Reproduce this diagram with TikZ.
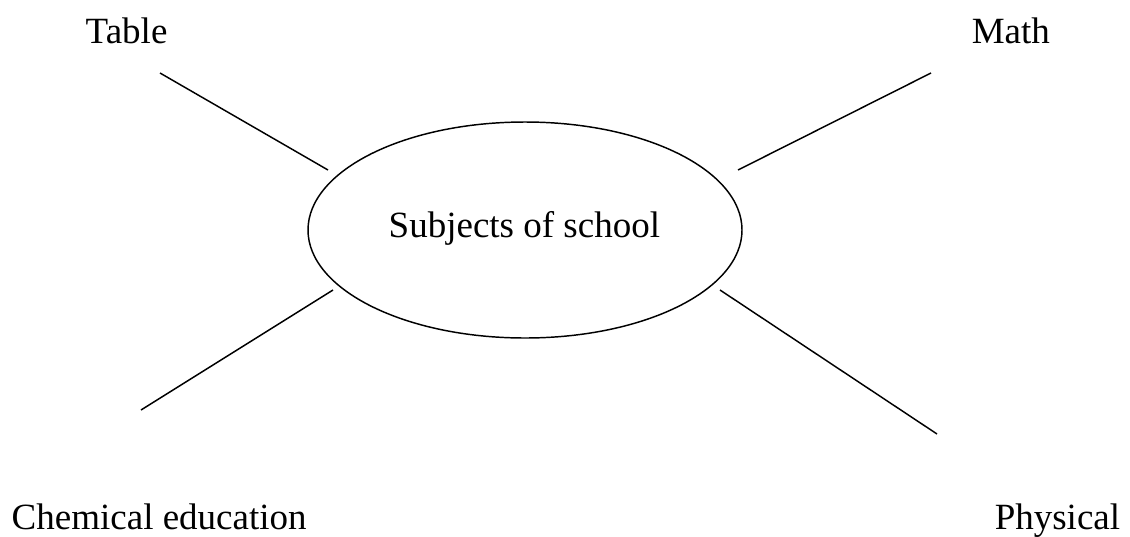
\documentclass[tikz,border=0pt]{standalone}
\usepackage{fontspec}
\setmainfont{Liberation Serif}
\usepackage{tikz}
\usetikzlibrary{shapes.geometric}

\begin{document}
\begin{tikzpicture}[x=0.75pt, y=-0.75pt, line width=1.1pt]
\useasboundingbox (0,0) rectangle (1130,536);
\tikzset{lbl/.style={inner sep=0pt, anchor=base west, font=\fontsize{27.75}{33}\selectfont}}
% Centre
\node[ellipse, draw, minimum width=434*0.75pt, minimum height=216*0.75pt, font=\fontsize{27.75}{33}\selectfont] (hub) at (525,230) {};
\node[lbl] (subj) at (388,237) {Subjects of school};
% Labels
\node[lbl] (table) at (85,43) {Table};
\node[lbl] (math) at (971,43) {Math};
\node[lbl] (chem) at (11,529) {Chemical education};
\node[lbl] (phys) at (994,529) {Physical};
% Spoke ends
\coordinate (tA) at (160,73);  \coordinate (tB) at (328,170);
\coordinate (mA) at (931,73);  \coordinate (mB) at (738,170);
\coordinate (cA) at (141,410); \coordinate (cB) at (333,290);
\coordinate (pA) at (937,434); \coordinate (pB) at (720,290);
% Spokes
\draw (tA)--(tB);
\draw (mA)--(mB);
\draw (cA)--(cB);
\draw (pA)--(pB);
\end{tikzpicture}
\end{document}
